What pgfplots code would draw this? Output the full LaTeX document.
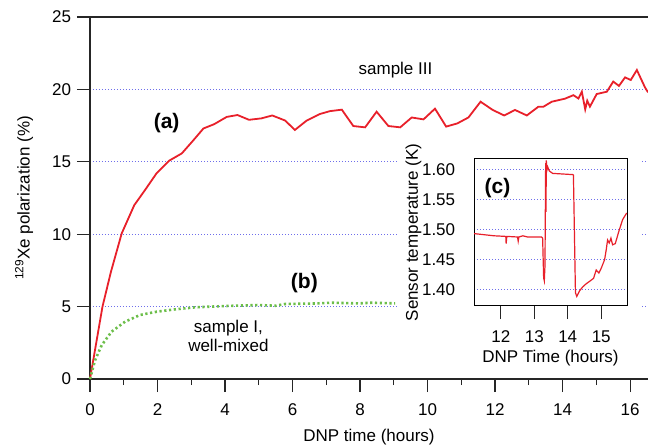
\documentclass[border=0pt]{standalone}
\usepackage{fontspec}
\setmainfont{Liberation Sans}
\usepackage{pgfplots}
\pgfplotsset{compat=1.18}
\definecolor{myred}{RGB}{232,32,42}
\definecolor{mygreen}{RGB}{108,190,74}
\definecolor{gridblue}{RGB}{110,110,235}
\begin{document}
\fontsize{17}{20}\selectfont
\begin{tikzpicture}
\useasboundingbox (-90pt,-68pt) rectangle (558pt,379pt);
\begin{axis}[
  at={(0pt,0pt)}, anchor=south west,
  scale only axis, width=558pt, height=362pt,
  xmin=0, xmax=16.53, ymin=0, ymax=25,
  axis lines=left, axis line style={-, line width=1.2pt, black!85},
  xtick={0,2,...,16}, minor xtick={1,3,...,15},
  ytick={0,5,...,25},
  tick align=outside,
  major tick length=13pt, minor tick length=6pt,
  tick style={line width=1.2pt, black!85},
  /pgf/number format/assume math mode=true,
  xticklabel style={yshift=-6pt},
  ymajorgrids, major grid style={draw=gridblue, solid, dash pattern=on 1pt off 2pt, line width=1pt},
  xlabel={DNP time (hours)},
  ylabel={\textsuperscript{129}Xe polarization (\%)},
  xlabel style={at={(axis description cs:0.5,0)}, anchor=center, yshift=-58pt},
  ylabel style={at={(axis description cs:-0.118,0.5)}, anchor=center},
  clip=false,
]
\addplot[myred, line width=1.8pt] coordinates {
(0,0) (0.37,5.0) (0.62,7.4) (0.94,10.06) (1.31,12.0) (1.63,13.05) (1.97,14.2)
(2.34,15.07) (2.72,15.58) (3.03,16.4) (3.36,17.3) (3.68,17.6) (4.05,18.1)
(4.37,18.23) (4.71,17.9) (5.08,18.0) (5.4,18.2) (5.78,17.85) (6.07,17.2)
(6.42,17.85) (6.81,18.3) (7.11,18.5) (7.46,18.6) (7.8,17.47) (8.15,17.38)
(8.49,18.46) (8.84,17.47) (9.19,17.38) (9.53,18.06) (9.88,17.93) (10.22,18.67)
(10.55,17.43) (10.88,17.65) (11.21,18.06) (11.57,19.15) (11.93,18.58)
(12.27,18.2) (12.59,18.58) (12.94,18.2) (13.28,18.8) (13.43,18.8) (13.68,19.15)
(14.07,19.36) (14.32,19.6) (14.47,19.37) (14.57,19.84) (14.67,18.62)
(14.73,19.22) (14.81,18.81) (15.01,19.68) (15.31,19.84) (15.5,20.54)
(15.67,20.24) (15.85,20.83) (16.02,20.65) (16.2,21.34) (16.44,20.14) (16.53,19.8)
};
\addplot[mygreen, line width=2.6pt, dash pattern=on 2.2pt off 2.6pt] coordinates {
(0,0) (0.15,1.3) (0.35,2.35) (0.64,3.27) (1.04,3.96) (1.48,4.42) (1.98,4.65)
(2.52,4.81) (3.11,4.95) (4,5.04) (4.99,5.11) (5.5,5.06) (5.78,5.18) (6.77,5.22)
(7.16,5.27) (7.95,5.22) (8.35,5.27) (9.04,5.22)
};
\draw[line width=1.2pt, black!85] (rel axis cs:0,1) -- (rel axis cs:1,1);
\fill[white] (axis cs:9.1,0.7) rectangle (axis cs:16.35,16.6);
\node[font=\bfseries\fontsize{21}{24}\selectfont] at (axis cs:2.27,17.7) {(a)};
\node[font=\bfseries\fontsize{21}{24}\selectfont] at (axis cs:6.35,6.6) {(b)};
\node at (axis cs:9.05,21.35) {sample III};
\node[align=center, font=\fontsize{17}{19}\selectfont] at (axis cs:4.1,3.0) {sample I,\\well-mixed};
\end{axis}
\begin{axis}[
  at={(384pt,73pt)}, anchor=south west,
  scale only axis, width=153pt, height=147pt,
  xmin=11.2, xmax=15.77, ymin=1.373, ymax=1.618,
  xtick={12,13,14,15}, ytick={1.40,1.45,...,1.60},
  yticklabel style={/pgf/number format/.cd, fixed, fixed zerofill, precision=2},
  /pgf/number format/assume math mode=true,
  xtick pos=bottom, ytick pos=left,
  tick align=outside, major tick length=13pt,
  xtick style={line width=1.2pt, black!85},
  ytick style={draw=none},
  axis line style={line width=1pt, black},
  ymajorgrids, major grid style={draw=gridblue, solid, dash pattern=on 1pt off 2pt, line width=1pt},
  xticklabel style={yshift=-6pt},
  xlabel={DNP Time (hours)},
  ylabel={Sensor temperature (K)},
  xlabel style={yshift=4pt},
  ylabel style={yshift=-11pt},
  axis background/.style={fill=white},
]
\addplot[myred, line width=1.2pt] coordinates {
(11.2,1.4935) (11.26,1.4933) (11.8,1.490) (12.15,1.489) (12.16,1.477) (12.18,1.489)
(12.5,1.488) (12.52,1.481) (12.54,1.488) (12.66,1.490) (12.8,1.488) (13.22,1.488)
(13.25,1.486) (13.28,1.420) (13.30,1.415) (13.32,1.44) (13.34,1.611)
(13.35,1.53) (13.36,1.6155) (13.38,1.60) (13.40,1.605) (13.45,1.598) (13.55,1.594)
(14.15,1.592) (14.17,1.591) (14.23,1.395) (14.27,1.389) (14.35,1.398)
(14.45,1.405) (14.55,1.410) (14.65,1.414) (14.77,1.419) (14.85,1.433)
(14.93,1.428) (15.0,1.436) (15.1,1.450) (15.15,1.467) (15.19,1.483)
(15.24,1.478) (15.29,1.486) (15.34,1.475) (15.42,1.477) (15.54,1.500)
(15.64,1.517) (15.76,1.528)
};
\node[font=\bfseries\fontsize{21}{24}\selectfont] at (axis cs:11.9,1.57) {(c)};
\end{axis}
\end{tikzpicture}
\end{document}
